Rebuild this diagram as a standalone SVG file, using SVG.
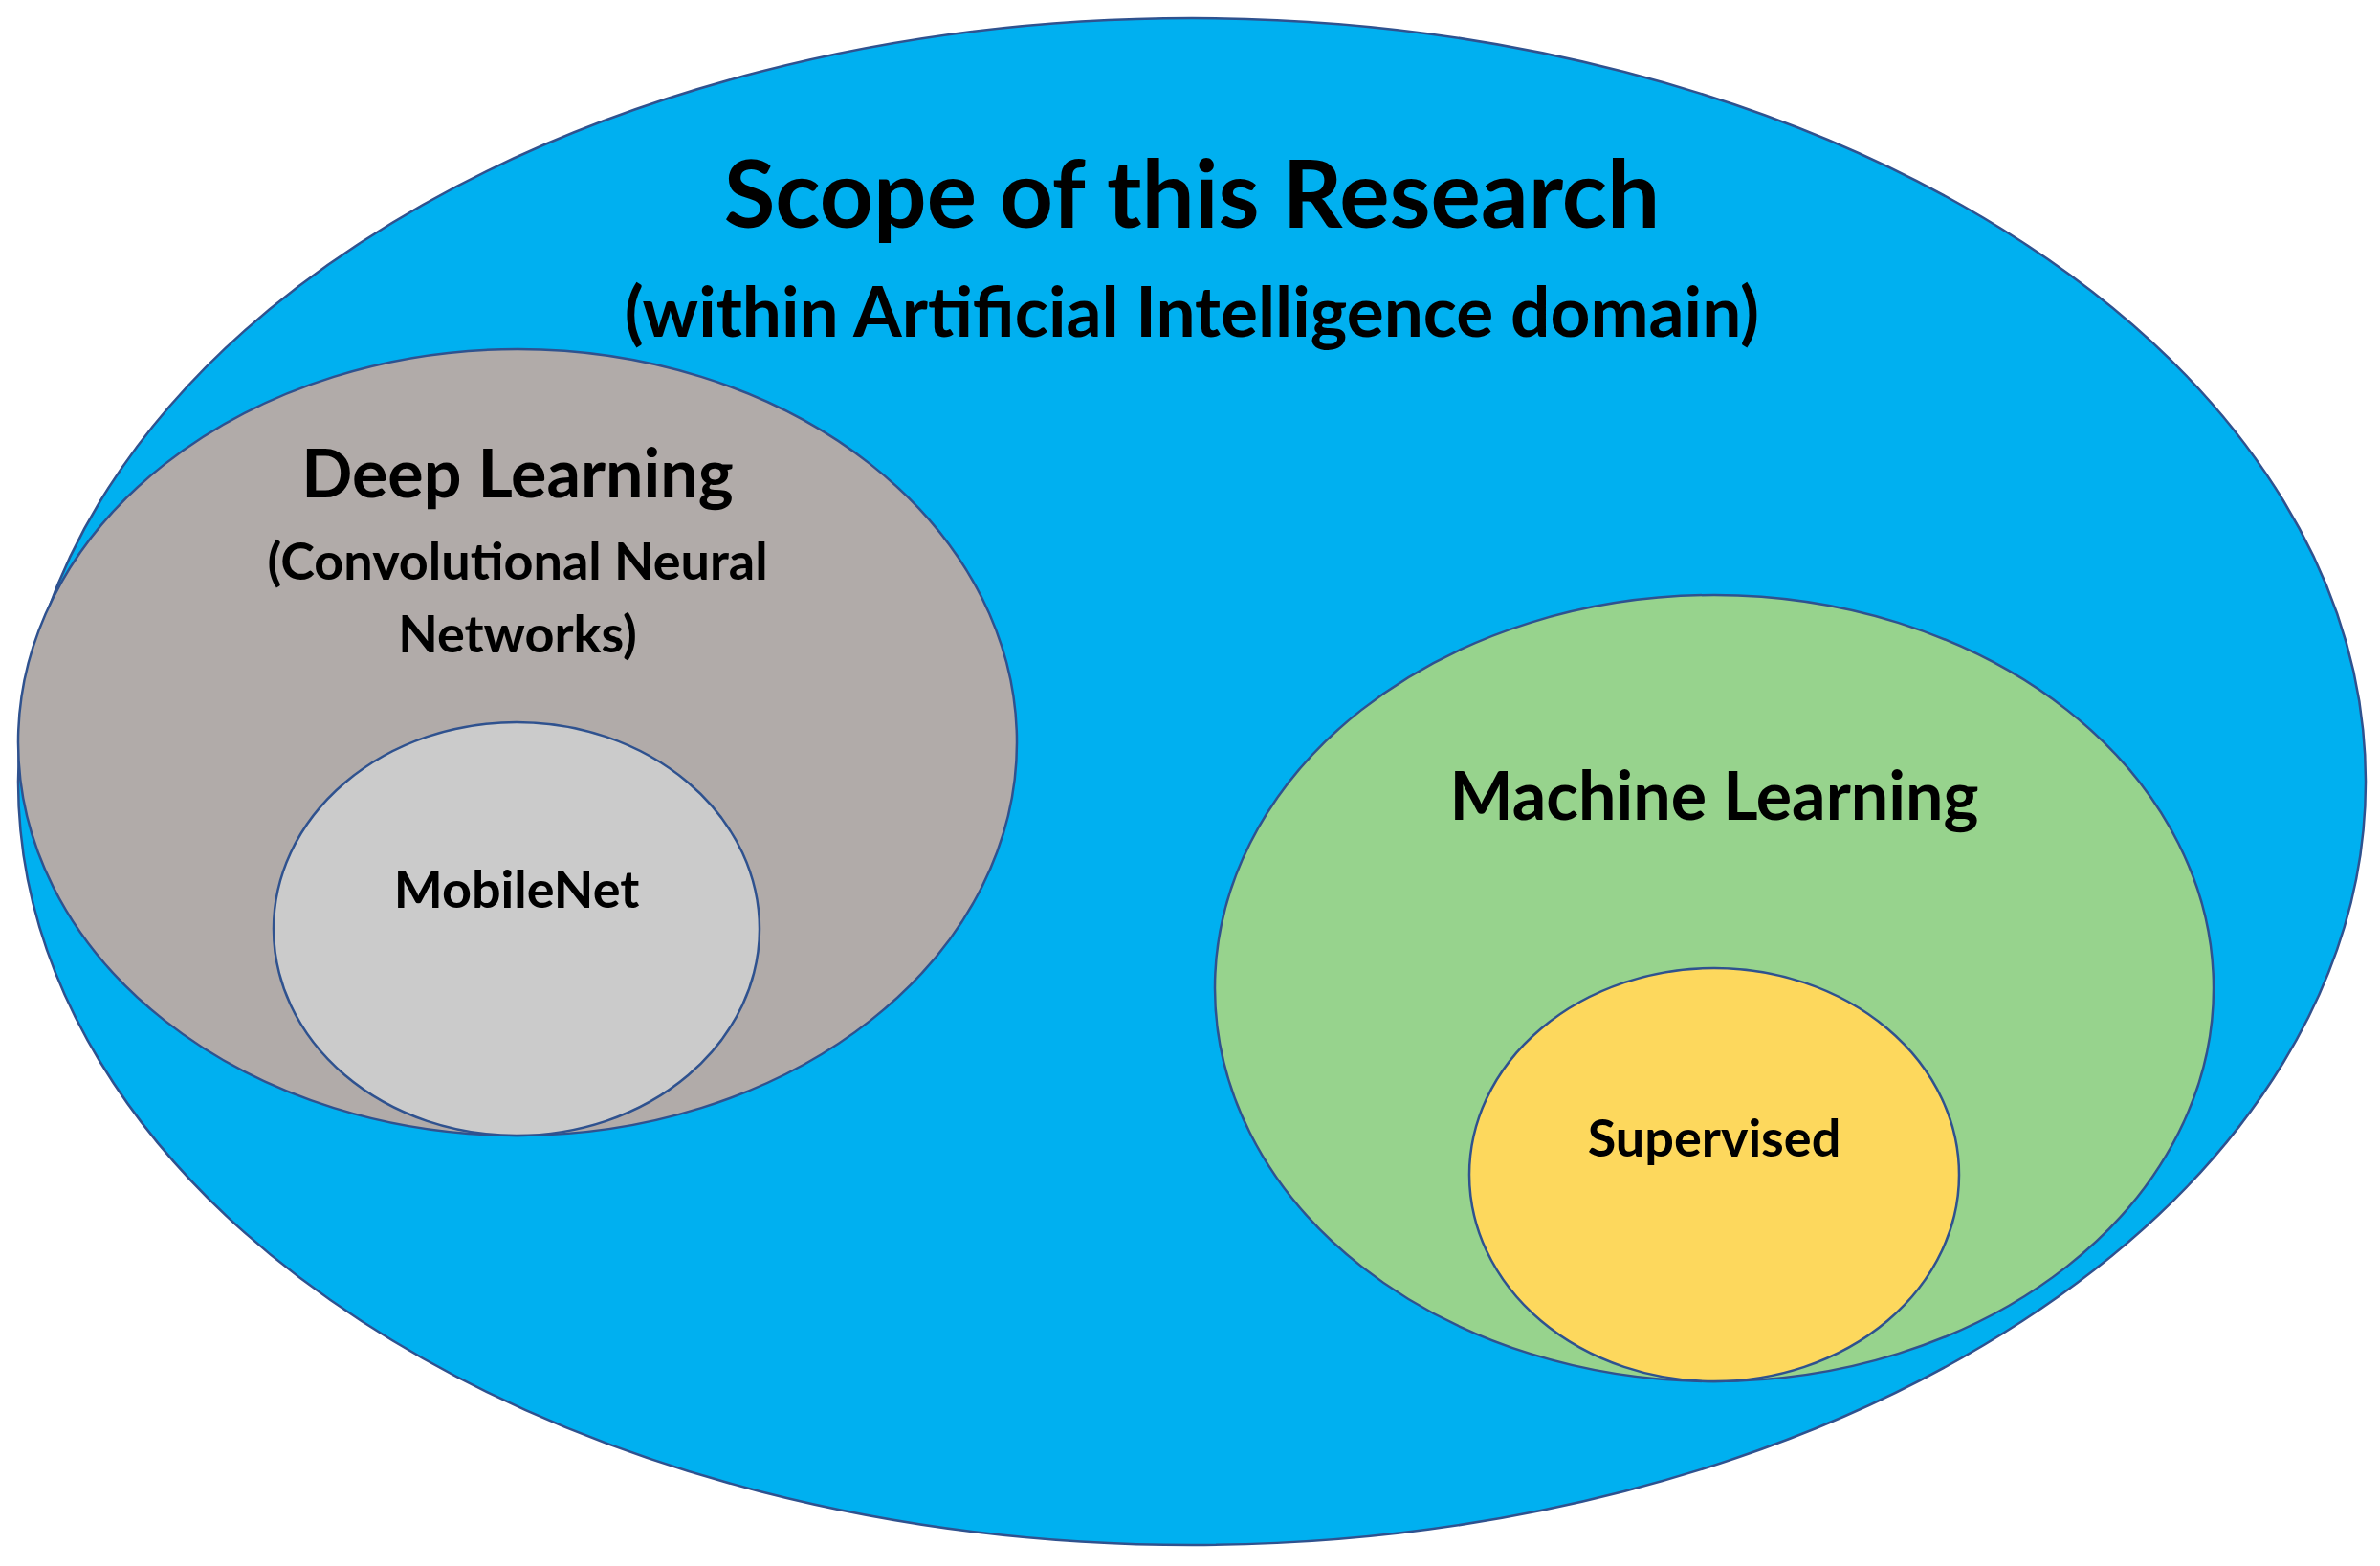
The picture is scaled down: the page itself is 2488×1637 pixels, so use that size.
<svg xmlns="http://www.w3.org/2000/svg" width="2488" height="1637" viewBox="0 0 2488 1637">
<style>
.e{stroke:#2F528F;stroke-width:2.5}
text{font-family:Lato,"Open Sans","Liberation Sans",sans-serif;font-weight:bold;fill:#000;text-anchor:middle}
</style>
<rect width="2488" height="1637" fill="#fff"/>
<g id="scope"><ellipse class="e" cx="1246" cy="817" rx="1227" ry="798" fill="#00B0F0"/>
<text x="1246" y="238" font-size="98">Scope of this Research</text>
<text x="1246" y="352" font-size="73">(within Artificial Intelligence domain)</text></g>
<g id="deep"><ellipse class="e" cx="541" cy="776" rx="522" ry="411" fill="#B1ABA9"/>
<text x="541" y="520" font-size="70">Deep Learning</text>
<text x="541" y="606" font-size="54">(Convolutional Neural</text>
<text x="541" y="682" font-size="54">Networks)</text></g>
<g id="mobilenet"><ellipse class="e" cx="540" cy="971" rx="254" ry="216" fill="#CBCBCB"/>
<text x="540" y="949" font-size="54">MobileNet</text></g>
<g id="ml"><ellipse class="e" cx="1792" cy="1033" rx="522" ry="411" fill="#97D38D"/>
<text x="1792" y="857" font-size="70">Machine Learning</text></g>
<g id="supervised"><ellipse class="e" cx="1792" cy="1228" rx="256" ry="216" fill="#FDD85D"/>
<text x="1792" y="1209" font-size="54">Supervised</text></g>
<g id="connectors"/>
</svg>
